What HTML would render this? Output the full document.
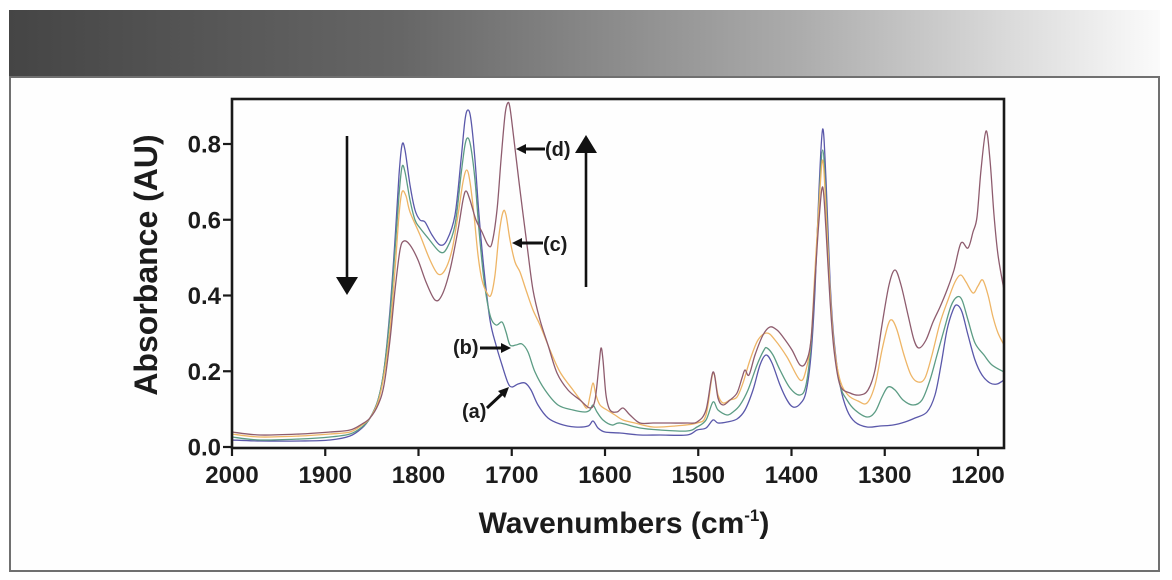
<!DOCTYPE html>
<html>
<head>
<meta charset="utf-8">
<style>
  html,body{margin:0;padding:0;background:#ffffff;}
  body{width:1172px;height:580px;overflow:hidden;}
  svg{display:block;}
  text{font-family:"Liberation Sans",Arial,sans-serif;font-weight:bold;fill:#1c1c1c;}
</style>
</head>
<body>
<svg id="chart" width="1172" height="580" viewBox="0 0 1172 580" xmlns="http://www.w3.org/2000/svg">
  <defs>
    <linearGradient id="hdr" x1="9" y1="0" x2="1160" y2="0" gradientUnits="userSpaceOnUse">
      <stop offset="0" stop-color="#454545"/>
      <stop offset="0.34" stop-color="#666666"/>
      <stop offset="0.687" stop-color="#acacac"/>
      <stop offset="0.86" stop-color="#d8d8d8"/>
      <stop offset="1" stop-color="#fbfbfb"/>
    </linearGradient>
    <clipPath id="plotclip">
      <rect x="233" y="100" width="770" height="347"/>
    </clipPath>
  </defs>

  <!-- header band -->
  <rect x="9" y="10" width="1151" height="67" fill="url(#hdr)"/>
  <!-- frame -->
  <rect x="10" y="77" width="1149" height="494" fill="#fefefe" stroke="#707070" stroke-width="2"/>

  <!-- curves -->
  <g id="curves" clip-path="url(#plotclip)" fill="none" stroke-width="1.3" stroke-linejoin="round">
    <!-- (a) blue -->
    <polyline class="c" stroke="#5a58aa" points="232,440 260,441 300,441 330,440 350,436 362,428 370,418 378,400 384,370 390,310 395,240 399,175 402,145 405,150 410,185 415,210 420,220 425,222 432,235 440,245 447,240 455,215 461,160 465,120 468,110 471,120 475,160 479,215 484,270 490,320 496,345 502,365 508,383 512,387 518,384 525,383 531,390 538,405 548,418 560,424 575,427 588,426 593,421 598,428 605,432 620,433 640,435 660,435 687,435 697,430 706,428 713,420 718,423 727,422 737,419 745,410 753,390 760,365 766,355 772,363 780,385 787,400 793,407 800,404 806,392 811,355 815,290 819,190 822.7,129 826,180 830,280 834,340 840,385 847,410 855,422 867,427 880,426 893,425 905,422 915,418 927,412 935,395 941,365 947,330 953,310 957,305 962,312 968,335 975,360 982,375 990,383 997,384 1004,380"/>
    <!-- (b) green -->
    <polyline class="c" stroke="#5c9c84" points="232,437 260,440 300,439 330,437 350,434 362,427 370,418 378,400 384,370 390,315 395,250 399,195 402,167 405,172 410,200 415,220 420,228 428,238 440,252 447,248 455,225 461,175 465,145 468,138 471,148 475,180 479,230 484,280 490,315 496,325 502,322 506,332 510,345 516,345 522,344 528,352 535,372 545,390 558,405 573,410 585,412 590,410 593,405 597,412 603,420 612,425 620,423 640,428 660,430 687,431 697,427 706,420 713,402 718,410 727,415 733,412 740,405 748,390 757,365 764,350 767,348 773,355 780,370 790,388 800,395 806,385 811,345 815,280 819,200 822.7,150 826,200 830,290 834,345 840,385 847,400 855,410 867,417 875,412 882,397 888,387 895,390 903,400 913,405 922,400 930,380 937,355 944,330 951,306 957,297 962,300 968,320 975,343 984,355 992,365 1004,372"/>
    <!-- (c) orange -->
    <polyline class="c" stroke="#eeb566" points="232,434 260,437 300,436 330,434 350,432 362,425 370,418 378,402 384,375 390,330 395,270 399,215 402,192 406,196 410,212 420,235 430,260 438,274 445,270 452,250 458,215 463,182 466.7,170 470,182 474,215 478,255 482,280 487,293 491,295 495,275 499,235 503,212 506,215 510,240 515,262 520,272 526,290 533,310 540,325 550,350 560,372 573,390 582,402 587,408 590,396 593,383 596,395 600,405 607,410 615,415 623,420 635,423 653,427 675,426 697,423 706,415 713,373 718,395 723,403 730,400 737,397 743,383 750,360 758,340 767,333 775,340 787,357 800,380 806,370 811,340 815,270 819,205 822.7,160 826,210 830,290 834,345 840,380 848,395 858,401 867,403 875,385 882,350 888,325 892,320 897,330 904,355 911,375 918,382 925,378 932,355 940,323 948,300 955,282 960.7,275 966,282 973,293 978,286 982.7,280 988,295 993,317 998,333 1004,345"/>
    <!-- (d) brown -->
    <polyline class="c" stroke="#8e5c6e" points="232,432 260,435 300,434 330,432 350,430 362,424 370,418 378,405 384,385 390,340 395,290 400,250 404,241 410,245 418,260 426,282 435,300 442,295 450,270 458,230 463,200 466,191 470,200 476,220 482,232 488,245 492,243 497,210 501,160 505,115 507.7,103 510,108 514,140 520,190 527,245 533,290 540,320 548,345 557,373 568,390 580,400 590,408 595,400 599,365 601,348 603,360 606,395 610,410 617,412 623,408 630,415 640,423 653,423 670,423 687,423 697,422 706,410 713,372 718,398 723,405 730,400 737,393 742,378 745,370 749,375 755,355 763,335 770,327 777,330 783,337 792,350 800,365 806,362 811,340 815,280 819,220 822.7,187 826,230 830,300 834,350 840,385 850,393 860,395 868,390 875,370 882,325 889,285 895,270 901,285 908,315 914,340 919,348 926,340 933,322 940,307 947,290 954,270 961,243 968,248 973,232 977,217 981,170 986,131 990,160 994,215 998,255 1004,290"/>
  </g>

  <!-- plot box -->
  <rect x="232" y="99" width="772" height="349" fill="none" stroke="#1a1a1a" stroke-width="2.6"/>

  <!-- x ticks -->
  <g stroke="#1a1a1a" stroke-width="2.2">
    <line x1="232" y1="448" x2="232" y2="456"/>
    <line x1="325.25" y1="448" x2="325.25" y2="456"/>
    <line x1="418.5" y1="448" x2="418.5" y2="456"/>
    <line x1="511.75" y1="448" x2="511.75" y2="456"/>
    <line x1="605" y1="448" x2="605" y2="456"/>
    <line x1="698.25" y1="448" x2="698.25" y2="456"/>
    <line x1="791.5" y1="448" x2="791.5" y2="456"/>
    <line x1="884.75" y1="448" x2="884.75" y2="456"/>
    <line x1="978" y1="448" x2="978" y2="456"/>
  </g>
  <g font-size="24" text-anchor="middle">
    <text x="232" y="483">2000</text>
    <text x="325.25" y="483">1900</text>
    <text x="418.5" y="483">1800</text>
    <text x="511.75" y="483">1700</text>
    <text x="605" y="483">1600</text>
    <text x="698.25" y="483">1500</text>
    <text x="791.5" y="483">1400</text>
    <text x="884.75" y="483">1300</text>
    <text x="978" y="483">1200</text>
  </g>

  <!-- y ticks -->
  <g stroke="#1a1a1a" stroke-width="2.2">
    <line x1="223" y1="447" x2="232" y2="447"/>
    <line x1="223" y1="371.25" x2="232" y2="371.25"/>
    <line x1="223" y1="295.5" x2="232" y2="295.5"/>
    <line x1="223" y1="219.75" x2="232" y2="219.75"/>
    <line x1="223" y1="144" x2="232" y2="144"/>
  </g>
  <g font-size="24" text-anchor="end">
    <text x="221" y="455.5">0.0</text>
    <text x="221" y="379.75">0.2</text>
    <text x="221" y="304">0.4</text>
    <text x="221" y="228.25">0.6</text>
    <text x="221" y="152.5">0.8</text>
  </g>

  <!-- axis titles -->
  <text transform="translate(157,265) rotate(-90)" font-size="32" text-anchor="middle">Absorbance (AU)</text>
  <text x="624" y="533" font-size="30" text-anchor="middle">Wavenumbers (cm<tspan font-size="17" dy="-12">-1</tspan><tspan dy="12">)</tspan></text>

  <!-- big arrows -->
  <g fill="#111" stroke="#111">
    <line x1="347" y1="136" x2="347" y2="280" stroke-width="2.6"/>
    <polygon points="336,277 358,277 347,295" stroke="none"/>
    <line x1="586" y1="287" x2="586" y2="150" stroke-width="2.6"/>
    <polygon points="575,153 597,153 586,135" stroke="none"/>
  </g>

  <!-- small labelled arrows -->
  <g fill="#111" stroke="#111">
    <line x1="545" y1="149" x2="523" y2="149" stroke-width="3"/>
    <polygon points="516,149 526,144 526,154" stroke="none"/>
    <line x1="543" y1="243" x2="519" y2="243" stroke-width="3"/>
    <polygon points="512,243 522,238 522,248" stroke="none"/>
    <line x1="480" y1="348" x2="503" y2="348" stroke-width="3"/>
    <polygon points="511,348 501,343 501,353" stroke="none"/>
    <line x1="487" y1="408" x2="503" y2="393" stroke-width="3"/>
    <polygon points="509,387 505,398 498,391" stroke="none"/>
  </g>
  <g font-size="20">
    <text x="545" y="156">(d)</text>
    <text x="543" y="251">(c)</text>
    <text x="453" y="354">(b)</text>
    <text x="462" y="418">(a)</text>
  </g>
</svg>
<script>
(function(){
  try{
    var NS="http://www.w3.org/2000/svg";
    var polys=document.querySelectorAll("#curves polyline.c");
    for(var k=0;k<polys.length;k++){
      var pl=polys[k];
      var raw=pl.getAttribute("points").trim().split(/\s+/);
      var p=[];
      for(var i=0;i<raw.length;i++){var xy=raw[i].split(",");p.push([parseFloat(xy[0]),parseFloat(xy[1])]);}
      var d="M"+p[0][0]+","+p[0][1];
      for(var i=0;i<p.length-1;i++){
        var p0=p[i>0?i-1:0],p1=p[i],p2=p[i+1],p3=p[i+2<p.length?i+2:p.length-1];
        var c1x=p1[0]+(p2[0]-p0[0])/6,c1y=p1[1]+(p2[1]-p0[1])/6;
        var c2x=p2[0]-(p3[0]-p1[0])/6,c2y=p2[1]-(p3[1]-p1[1])/6;
        d+=" C"+c1x.toFixed(2)+","+c1y.toFixed(2)+" "+c2x.toFixed(2)+","+c2y.toFixed(2)+" "+p2[0]+","+p2[1];
      }
      var path=document.createElementNS(NS,"path");
      path.setAttribute("d",d);
      path.setAttribute("stroke",pl.getAttribute("stroke"));
      path.setAttribute("fill","none");
      pl.parentNode.insertBefore(path,pl);
      pl.parentNode.removeChild(pl);
    }
  }catch(e){}
})();
</script>
</body>
</html>
